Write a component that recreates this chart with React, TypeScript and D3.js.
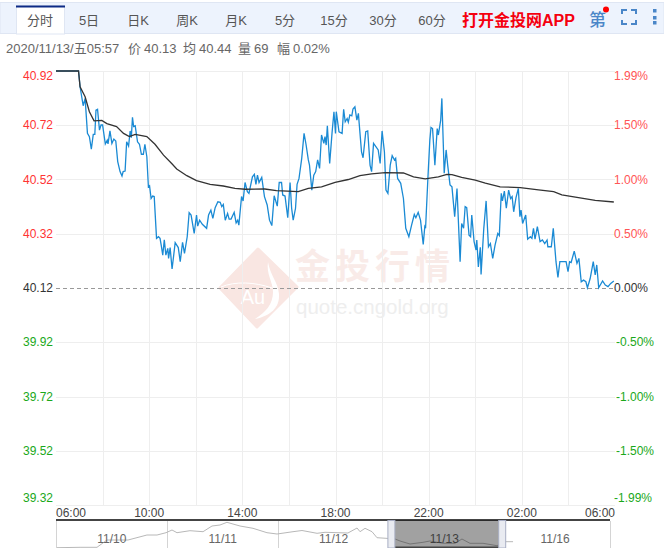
import React, { useEffect, useRef } from 'react';
import * as d3 from 'd3';

const tabs = ['分时', '5日', '日K', '周K', '月K', '5分', '15分', '30分', '60分'];

const priceTicks = [40.92, 40.72, 40.52, 40.32, 40.12, 39.92, 39.72, 39.52, 39.32];
const percentTicks = ['1.99%', '1.50%', '1.00%', '0.50%', '0.00%', '-0.50%', '-1.00%', '-1.50%', '-1.99%'];
const basePrice = 40.12;

const gridMinutes = [120, 240, 360, 480, 600, 720, 840, 960, 1080, 1200, 1320];
const hourMinutes = [0, 240, 480, 720, 960, 1200, 1440];
const hourLabels = ['06:00', '10:00', '14:00', '18:00', '22:00', '02:00', '06:00'];

// minutes after 06:00
const priceMinutes = [
  0, 58, 62, 70, 75, 81, 86, 91, 96, 100, 103, 107, 112, 116, 120, 127, 132, 134, 139, 144, 149, 154, 159, 165, 170, 173, 178, 182, 187, 191, 194, 197, 200, 204, 210, 215, 220, 225, 229, 234, 238, 241, 245, 249, 253, 259, 264, 268, 271, 275, 279, 283, 288, 290, 294, 299, 307, 315, 320, 326, 331, 338, 343, 348, 356, 362, 365, 370, 377, 388, 393, 399, 404, 410, 417, 423, 427, 431, 436, 442, 446, 451, 459,
  464, 468, 471, 478, 482, 487, 493, 497, 506, 511, 515, 519, 523, 530, 537, 544, 550, 556, 562, 570, 575, 581, 584, 590, 597, 603, 607, 611, 617, 621, 626, 633, 639, 644, 650, 653, 659, 664, 669, 674, 679, 684, 690, 693, 696, 699, 705, 711, 716, 720, 722, 729, 737, 741, 745, 750, 753, 757, 762, 765, 770, 775, 779, 781, 787, 791, 798, 803, 809, 813, 818, 824, 830, 835, 840, 846, 850, 855, 861, 866, 872, 875, 880, 888, 895, 901, 909, 916, 923, 927, 933, 939, 946, 950,
  952, 958, 963, 966, 970, 976, 982, 985, 991, 994, 1000, 1005, 1009, 1015, 1020, 1027, 1033, 1041, 1045, 1050, 1054, 1058, 1064, 1068, 1071, 1077, 1082, 1084, 1088, 1093, 1095, 1102, 1108, 1114, 1119, 1125, 1131, 1138, 1142, 1147, 1150, 1155, 1160, 1166, 1171, 1175, 1179, 1185, 1191, 1195, 1198, 1202, 1210, 1215, 1222, 1226, 1230, 1234, 1240, 1247, 1253, 1259, 1265, 1267, 1276, 1281, 1288, 1293, 1298, 1307, 1314, 1319, 1323, 1327, 1335, 1342, 1347, 1353, 1359, 1365, 1369, 1376, 1384, 1389, 1393, 1398, 1408, 1415, 1422, 1429, 1437,
];
const priceValues = [
  40.92, 40.92, 40.862, 40.792, 40.819, 40.69, 40.678, 40.632, 40.686, 40.686, 40.776, 40.779, 40.702, 40.721, 40.721, 40.651, 40.665, 40.651, 40.699, 40.653, 40.669, 40.662, 40.586, 40.549, 40.533, 40.549, 40.551, 40.659, 40.643, 40.699, 40.674, 40.749, 40.715, 40.718, 40.659, 40.65, 40.613, 40.613, 40.65, 40.604, 40.493, 40.497, 40.45, 40.459, 40.457, 40.303, 40.309, 40.303, 40.278, 40.241, 40.298, 40.241, 40.266, 40.229, 40.269, 40.19, 40.287, 40.269, 40.217, 40.288, 40.248, 40.309, 40.398, 40.389, 40.321, 40.389, 40.348, 40.37, 40.355, 40.34, 40.389, 40.407, 40.377, 40.416, 40.438, 40.436, 40.42, 40.428, 40.37, 40.395, 40.374, 40.374, 40.399,
  40.36, 40.37, 40.352, 40.457, 40.441, 40.509, 40.475, 40.469, 40.53, 40.539, 40.502, 40.536, 40.509, 40.528, 40.457, 40.426, 40.37, 40.35, 40.46, 40.422, 40.509, 40.509, 40.463, 40.459, 40.379, 40.509, 40.414, 40.37, 40.414, 40.502, 40.524, 40.598, 40.69, 40.65, 40.592, 40.573, 40.481, 40.536, 40.549, 40.592, 40.561, 40.684, 40.653, 40.678, 40.647, 40.718, 40.579, 40.69, 40.77, 40.69, 40.77, 40.696, 40.69, 40.779, 40.733, 40.745, 40.731, 40.758, 40.755, 40.78, 40.788, 40.739, 40.764, 40.727, 40.622, 40.6, 40.696, 40.699, 40.573, 40.549, 40.653, 40.641, 40.629, 40.579, 40.699, 40.622, 40.481, 40.469, 40.573, 40.608, 40.592, 40.598, 40.524, 40.506, 40.45, 40.34, 40.309, 40.352, 40.391, 40.379, 40.399, 40.37, 40.281, 40.346,
  40.34, 40.524, 40.665, 40.712, 40.708, 40.573, 40.708, 40.684, 40.739, 40.819, 40.543, 40.629, 40.573, 40.5, 40.493, 40.383, 40.487, 40.217, 40.358, 40.34, 40.42, 40.416, 40.315, 40.309, 40.389, 40.291, 40.26, 40.297, 40.198, 40.27, 40.17, 40.34, 40.441, 40.272, 40.284, 40.229, 40.278, 40.321, 40.313, 40.469, 40.441, 40.477, 40.414, 40.481, 40.45, 40.457, 40.401, 40.453, 40.487, 40.383, 40.407, 40.358, 40.389, 40.3, 40.309, 40.303, 40.34, 40.3, 40.346, 40.291, 40.297, 40.284, 40.297, 40.272, 40.272, 40.34, 40.217, 40.159, 40.217, 40.217, 40.217, 40.18, 40.217, 40.214, 40.256, 40.211, 40.229, 40.143, 40.149, 40.143, 40.121, 40.155, 40.217, 40.168, 40.205, 40.121, 40.146, 40.131, 40.125, 40.137, 40.146,
];

const avgMinutes = [0, 58, 62, 75, 86, 98, 118, 131, 156, 174, 189, 204, 234, 255, 277, 298, 311, 337, 362, 397, 431, 461, 487, 538, 568, 624, 650, 684, 719, 753, 783, 813, 848, 895, 921, 951, 985, 1007, 1020, 1045, 1080, 1106, 1144, 1196, 1243, 1282, 1303, 1338, 1389, 1437];
const avgValues = [40.92, 40.92, 40.862, 40.825, 40.77, 40.736, 40.738, 40.726, 40.715, 40.69, 40.678, 40.686, 40.678, 40.65, 40.61, 40.579, 40.559, 40.534, 40.516, 40.502, 40.496, 40.487, 40.484, 40.485, 40.479, 40.475, 40.487, 40.493, 40.509, 40.52, 40.534, 40.541, 40.545, 40.544, 40.53, 40.522, 40.53, 40.539, 40.538, 40.528, 40.518, 40.507, 40.493, 40.49, 40.482, 40.475, 40.463, 40.455, 40.443, 40.437];

// overview strip, position counted in sessions
const miniDates = ['11/10', '11/11', '11/12', '11/13', '11/16'];
const miniDividers = [1, 2, 3, 4];
const miniPos = [0.009, 0.217, 0.37, 0.46, 0.65, 0.821, 0.912, 0.993, 1.047, 1.092, 1.209, 1.327, 1.408, 1.48, 1.543, 1.661, 1.778, 1.904, 1.995, 2.139, 2.22, 2.356, 2.428, 2.635, 2.717, 2.744, 2.789, 2.852, 2.897, 2.978, 3.06, 3.105, 3.195, 3.312, 3.375, 3.493, 3.601, 3.664, 3.736, 3.854, 3.98, 4.052, 4.125];
const miniValues = [39.93, 39.97, 39.97, 40.7, 40.7, 41.2, 41.2, 41.43, 41.7, 41.43, 41.63, 41.53, 42.1, 42.2, 42.47, 42.1, 41.87, 41.43, 41.3, 41.53, 41.65, 41.37, 41.47, 41.4, 41.9, 41.53, 41.87, 41.53, 40.93, 40.87, 40.8, 40.6, 40.3, 40.47, 40.6, 40.37, 40.37, 40.8, 40.37, 40.37, 40.13, 40.53, 40.53];
const brushRange = [3.0, 4.0];

const LATIN = '"Liberation Sans", "Noto Sans CJK SC", sans-serif';

export default function App() {
  const svgRef = useRef<SVGSVGElement>(null);

  useEffect(() => {
    if (!svgRef.current) return;
    const svg = d3.select(svgRef.current);
    svg.selectAll('*').remove();
    svg.style('font-family', LATIN);

    const x = d3.scaleLinear().domain([0, 1440]).range([56, 615]);
    const y = d3.scaleLinear().domain([39.32, 40.92]).range([505, 71]);

    // toolbar
    const bar = svg.append('g');
    bar.append('rect').attr('x', 0).attr('y', 2.5).attr('width', 664).attr('height', 31)
      .attr('fill', '#edf3fd').attr('stroke', '#dfe6f3');
    bar.append('rect').attr('x', 16.5).attr('y', 6).attr('width', 48).attr('height', 28)
      .attr('fill', '#fff').attr('stroke', '#dfe6f3');
    bar.append('rect').attr('x', 16).attr('y', 5.5).attr('width', 49).attr('height', 2).attr('fill', '#0d2a86');

    const tabX = d3.scalePoint<string>().domain(tabs).range([40, 432]);
    bar.selectAll('text.tab').data(tabs).join('text')
      .attr('class', 'tab')
      .attr('x', d => tabX(d) as number)
      .attr('y', 25)
      .attr('text-anchor', 'middle')
      .attr('font-size', 13)
      .attr('fill', '#555')
      .text(d => d);

    bar.append('text').attr('x', 462).attr('y', 26).attr('font-size', 16).attr('font-weight', 'bold')
      .attr('fill', '#f5000f').text('打开金投网APP');
    bar.append('text').attr('x', 589).attr('y', 26).attr('font-size', 17).attr('font-weight', 500)
      .attr('fill', '#4a86c8').text('第');
    bar.append('circle').attr('cx', 606).attr('cy', 9.5).attr('r', 3).attr('fill', '#f00');
    bar.append('path')
      .attr('d', 'M622 14V10H627M631 10H636V14M636 20V24H631M627 24H622V20')
      .attr('fill', 'none').attr('stroke', '#4a86c8').attr('stroke-width', 2);
    bar.selectAll('rect.dot').data([9, 16, 21]).join('rect')
      .attr('class', 'dot')
      .attr('x', 653).attr('y', d => d).attr('width', 3.5).attr('height', 3.5).attr('fill', '#4a86c8');

    // quote line
    const info: [number, string][] = [
      [6, '2020/11/13/五05:57'], [128, '价'], [144, '40.13'], [183, '均'], [199, '40.44'],
      [238, '量'], [254, '69'], [277, '幅'], [293, '0.02%'],
    ];
    svg.append('g').selectAll('text').data(info).join('text')
      .attr('x', d => d[0]).attr('y', 53)
      .attr('font-size', 13).attr('fill', '#666')
      .text(d => d[1]);

    // watermark
    const mark = svg.append('g');
    mark.append('path').attr('d', 'M220 288L258 249L297 287L257 327Z')
      .attr('fill', '#f9e6e2').attr('stroke', '#f9e6e2').attr('stroke-width', 3).attr('stroke-linejoin', 'round');
    mark.append('path').attr('d', 'M268 262C270 275 278 282 279 294C280 308 270 316 255 319C266 312 273 304 273 292C273 282 266 274 268 262Z')
      .attr('fill', '#fff');
    mark.append('path').attr('d', 'M221 287C235 281 255 282 272 288').attr('fill', 'none').attr('stroke', '#fff').attr('stroke-width', 1);
    mark.append('text').attr('x', 253).attr('y', 304).attr('text-anchor', 'middle').attr('font-size', 20)
      .attr('fill', '#fff').text('Au');
    mark.append('text').attr('x', 295).attr('y', 279).attr('font-size', 35).attr('font-weight', 'bold')
      .attr('letter-spacing', 5).attr('fill', '#f9ebe8').text('金投行情');
    mark.append('text').attr('x', 296).attr('y', 314).attr('font-size', 20.5)
      .attr('fill', '#eeeeee').text('quote.cngold.org');

    // grid
    const grid = svg.append('g').attr('stroke', '#eeeeee').attr('stroke-width', 1);
    grid.selectAll('line.h').data(priceTicks.filter(d => d !== basePrice)).join('line')
      .attr('class', 'h')
      .attr('x1', x(0)).attr('x2', x(1440))
      .attr('y1', d => Math.round(y(d)) + 0.5).attr('y2', d => Math.round(y(d)) + 0.5);
    grid.selectAll('line.v').data(gridMinutes).join('line')
      .attr('class', 'v')
      .attr('x1', d => Math.round(x(d)) + 0.5).attr('x2', d => Math.round(x(d)) + 0.5)
      .attr('y1', y(40.92)).attr('y2', y(39.32));
    svg.append('line')
      .attr('x1', x(0)).attr('x2', x(1440))
      .attr('y1', Math.round(y(basePrice)) + 0.5).attr('y2', Math.round(y(basePrice)) + 0.5)
      .attr('stroke', '#999').attr('stroke-dasharray', '4,3');

    // left and right labels
    const labelY = (i: number) => {
      const py = y(priceTicks[i]);
      if (i === 0) return py + 9;
      if (i === priceTicks.length - 1) return py - 3;
      return py + 4;
    };
    const tone = (p: number) => (p > basePrice ? '#f33' : p < basePrice ? '#1aa81a' : '#333');
    svg.append('g').selectAll('text').data(priceTicks).join('text')
      .attr('x', 53).attr('y', (_, i) => labelY(i))
      .attr('text-anchor', 'end').attr('font-size', 12)
      .attr('fill', d => tone(d))
      .text(d => d.toFixed(2));
    svg.append('g').selectAll('text').data(percentTicks).join('text')
      .attr('x', (d, i) => (d.startsWith('-') && i < 8 ? 616 : 614)).attr('y', (_, i) => labelY(i))
      .attr('font-size', 12)
      .attr('fill', (_, i) => (priceTicks[i] > basePrice ? '#f55' : tone(priceTicks[i])))
      .text(d => d);

    // price and average lines
    const priceLine = d3.line<number>().x(d => x(priceMinutes[d])).y(d => y(priceValues[d]));
    const avgLine = d3.line<number>().x(d => x(avgMinutes[d])).y(d => y(avgValues[d]));

    svg.append('path').attr('d', priceLine(d3.range(priceMinutes.length)))
      .attr('fill', 'none').attr('stroke', '#1a8ad4').attr('stroke-width', 1.3);
    svg.append('path').attr('d', avgLine(d3.range(avgMinutes.length)))
      .attr('fill', 'none').attr('stroke', '#333').attr('stroke-width', 1.3);

    // hour labels
    svg.append('g').selectAll('text').data(hourMinutes).join('text')
      .attr('x', d => x(d)).attr('y', 517)
      .attr('text-anchor', (_, i) => (i === 0 ? 'start' : i === hourMinutes.length - 1 ? 'end' : 'middle'))
      .attr('font-size', 12).attr('fill', '#444')
      .text((_, i) => hourLabels[i]);

    // overview strip
    const mx = d3.scaleLinear().domain([0, 5]).range([56, 610]);
    const my = d3.scaleLinear().domain([39.8, 42.8]).range([549, 519]);
    const mini = svg.append('g');
    mini.selectAll('line.div').data([0, ...miniDividers, 5]).join('line')
      .attr('class', 'div')
      .attr('x1', d => Math.round(mx(d)) + 0.5).attr('x2', d => Math.round(mx(d)) + 0.5)
      .attr('y1', 521).attr('y2', 548)
      .attr('stroke', '#d4d4d4');
    const miniLine = d3.line<number>().x(d => mx(miniPos[d])).y(d => my(miniValues[d]));
    mini.append('path').attr('d', miniLine(d3.range(miniPos.length)))
      .attr('fill', 'none').attr('stroke', '#b8b8b8').attr('stroke-width', 1);
    mini.selectAll('text').data(miniDates).join('text')
      .attr('x', (_, i) => mx(i + 0.5) + 0.5).attr('y', 543)
      .attr('text-anchor', 'middle').attr('font-size', 12).attr('fill', '#666')
      .text(d => d);
    mini.append('rect').attr('x', 56).attr('y', 519).attr('width', 554).attr('height', 2).attr('fill', '#444');

    const bx0 = mx(brushRange[0]);
    const bx1 = mx(brushRange[1]);
    mini.append('rect').attr('x', bx0).attr('y', 520).attr('width', bx1 - bx0).attr('height', 27)
      .attr('fill', '#000').attr('fill-opacity', 0.37);
    mini.append('rect').attr('x', bx0).attr('y', 546.5).attr('width', bx1 - bx0).attr('height', 1.5).attr('fill', '#444');
    mini.selectAll('rect.handle').data([bx0, bx1]).join('rect')
      .attr('class', 'handle')
      .attr('x', d => d - 0.5).attr('y', 520.5).attr('width', 7).attr('height', 27.5)
      .attr('fill', '#e9ebf1').attr('stroke', '#a8aec4');
  }, []);

  return (
    <svg
      ref={svgRef}
      width={664}
      height={548}
      style={{ position: 'absolute', left: 0, top: 0, background: '#fff' }}
    />
  );
}
